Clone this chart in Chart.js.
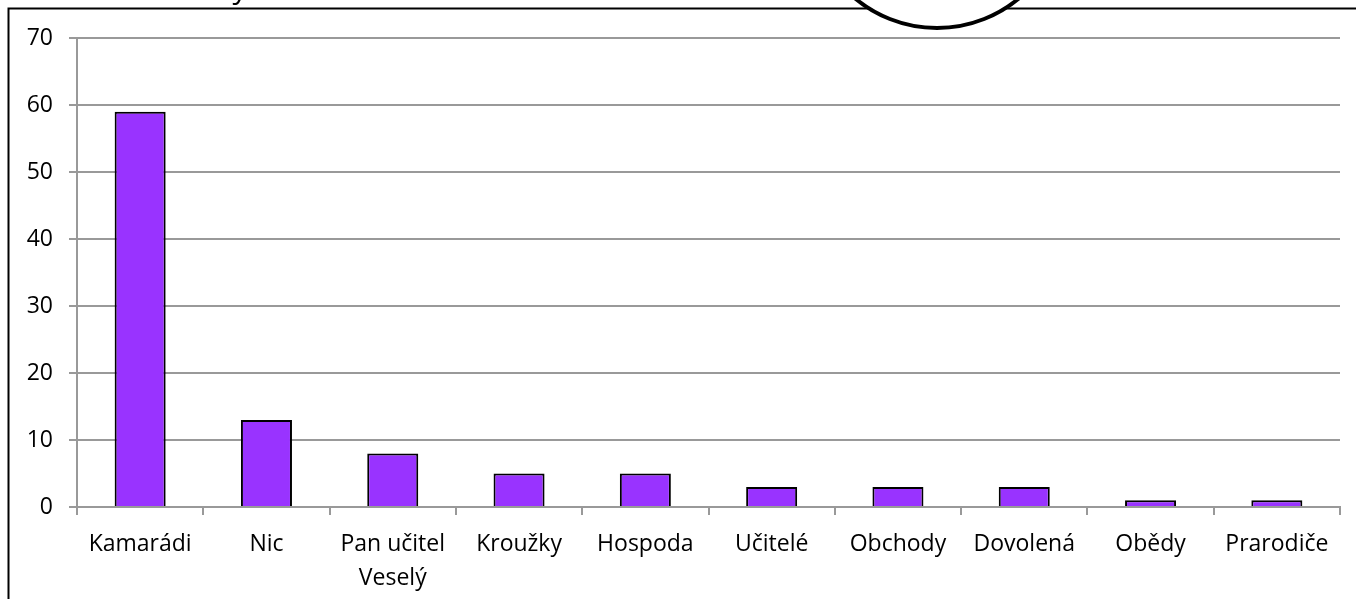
<!DOCTYPE html>
<html>
<head>
<meta charset="utf-8">
<script src="https://cdn.jsdelivr.net/npm/chart.js@4/dist/chart.umd.min.js"></script>
<style>
  html, body { margin: 0; padding: 0; background: #fff; }
  #wrap { width: 1356px; height: 599px; position: relative; }
</style>
</head>
<body>
<div id="wrap"><canvas id="barChart"></canvas></div>
<script>
var categories = ["Kamarádi", "Nic", ["Pan učitel", "Veselý"], "Kroužky", "Hospoda", "Učitelé", "Obchody", "Dovolená", "Obědy", "Prarodiče"];
var counts = [59, 13, 8, 5, 5, 3, 3, 3, 1, 1];
var yMin = 0;
var yMax = 70;
var yStep = 10;

var fontFamily = "'Open Sans', 'Liberation Sans', sans-serif";
var gridColor = "#999999";

// frame, the cut-off title and the circle that sit over the chart in the original
var decorations = {
    id: "decorations",
    afterDraw: function (chart) {
        var ctx = chart.ctx;
        ctx.save();
        ctx.strokeStyle = "#000";
        ctx.lineWidth = 2;
        ctx.beginPath();
        ctx.moveTo(8.5, 599);
        ctx.lineTo(8.5, 8.5);
        ctx.lineTo(1356, 8.5);
        ctx.stroke();

        ctx.fillStyle = "#000";
        ctx.font = "30px " + fontFamily;
        ctx.textAlign = "center";
        ctx.textBaseline = "alphabetic";
        ctx.fillText("y", 240, -2);

        ctx.beginPath();
        ctx.arc(937, -100, 128, 0, Math.PI * 2);
        ctx.fillStyle = "#fff";
        ctx.fill();
        ctx.lineWidth = 4;
        ctx.strokeStyle = "#000";
        ctx.stroke();
        ctx.restore();
    }
};

var ctx = document.getElementById("barChart").getContext("2d");
var chart = new Chart(ctx, {
    type: "bar",
    data: {
        labels: categories,
        datasets: [{
            data: counts,
            backgroundColor: "#9933ff",
            borderColor: "#000",
            borderWidth: 2,
            categoryPercentage: 1,
            barPercentage: 0.404
        }]
    },
    options: {
        responsive: true,
        maintainAspectRatio: false,
        animation: false,
        layout: { padding: { left: 0, top: 38, right: 16, bottom: 0 } },
        plugins: {
            legend: { display: false },
            tooltip: { enabled: false }
        },
        scales: {
            x: {
                grid: {
                    offset: true,
                    drawOnChartArea: false,
                    drawTicks: true,
                    tickLength: 8,
                    lineWidth: 2,
                    color: gridColor
                },
                border: { color: gridColor, width: 2 },
                ticks: {
                    color: "#000",
                    maxRotation: 0,
                    autoSkip: false,
                    padding: 13,
                    font: { family: fontFamily, size: 23, lineHeight: 1.45 }
                },
                afterFit: function (scale) { scale.height = 92; }
            },
            y: {
                min: yMin,
                max: yMax,
                ticks: {
                    stepSize: yStep,
                    color: "#000",
                    padding: 16,
                    font: { family: fontFamily, size: 23 }
                },
                grid: {
                    color: gridColor,
                    lineWidth: 2,
                    drawTicks: true,
                    tickLength: 8
                },
                border: { color: gridColor, width: 2 },
                afterFit: function (scale) { scale.width = 77; }
            }
        }
    },
    plugins: [decorations]
});
</script>
</body>
</html>
